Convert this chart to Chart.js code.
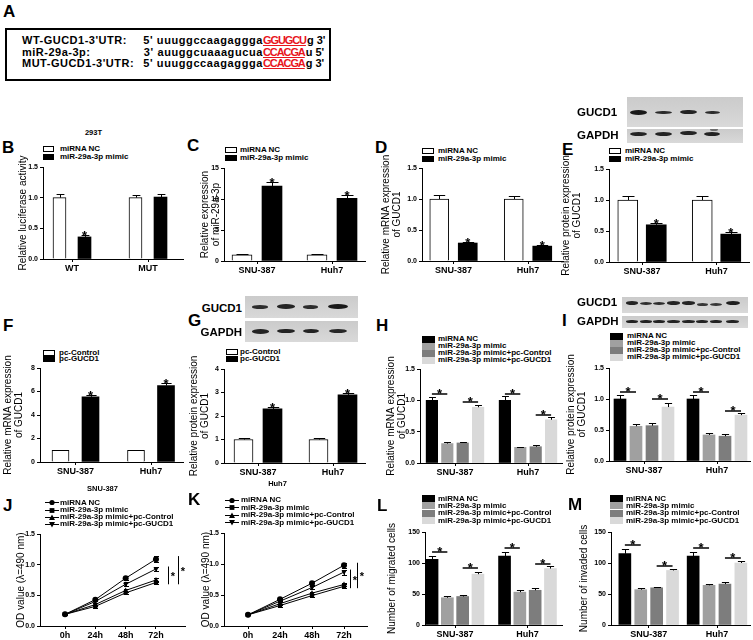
<!DOCTYPE html>
<html>
<head>
<meta charset="utf-8">
<script src="https://cdn.jsdelivr.net/npm/chart.js@4.4.1/dist/chart.umd.min.js"></script>
<style>
  body { margin: 0; background: #fff; }
  #fig { position: relative; width: 753px; height: 640px; overflow: hidden; background: #fff;
         font-family: "Liberation Sans", Arial, sans-serif; color: #000; }
  svg { display: block; }
</style>
</head>
<body>
<div id="fig"></div>
<script>
// ---------------- data ----------------
const cellLines = ["SNU-387", "Huh7"];
const reporters = ["WT", "MUT"];
const timePoints = ["0h", "24h", "48h", "72h"];
const names2 = ["miRNA NC", "miR-29a-3p mimic"];
const pcNames = ["pc-Control", "pc-GUCD1"];
const names4 = ["miRNA NC", "miR-29a-3p mimic", "miR-29a-3p mimic+pc-Control", "miR-29a-3p mimic+pc-GUCD1"];

const seqRows = [
  ["WT-GUCD1-3'UTR:", "5' uuuggccaagaggga", "GGUGCU", "g 3'"],
  ["miR-29a-3p:", "3' auuggcuaaagucua", "CCACGA", "u 5'"],
  ["MUT-GUCD1-3'UTR:", "5' uuuggccaagaggga", "CCACGA", "g 3'"]
];

const ratioTicks = [0, 0.5, 1.0, 1.5];
const ratioTickLabels = ["0.0", "0.5", "1.0", "1.5"];
const mirTicks = [0, 5, 10, 15];
const mirTickLabels = ["0", "5", "10", "15"];
const fTicks = [0, 2, 4, 6, 8];
const fTickLabels = ["0", "2", "4", "6", "8"];
const gTicks = [0, 1, 2, 3, 4];
const gTickLabels = ["0", "1", "2", "3", "4"];
const cellTicks = [0, 50, 100, 150];
const cellTickLabels = ["0", "50", "100", "150"];

// B luciferase (293T)
const lucNC = [1.00, 1.00], lucNCErr = [0.06, 0.05];
const lucMimic = [0.36, 1.01], lucMimicErr = [0.03, 0.05];
const lucStars = [true, false];
// C miR-29a-3p expression
const mirNC = [1.0, 1.0], mirNCErr = [0.05, 0.05];
const mirMimic = [12.1, 10.1], mirMimicErr = [0.6, 0.5];
// D GUCD1 mRNA
const mrnaNC = [1.00, 1.00], mrnaNCErr = [0.06, 0.05];
const mrnaMimic = [0.29, 0.24], mrnaMimicErr = [0.02, 0.02];
// E GUCD1 protein
const protNC = [1.00, 1.00], protNCErr = [0.07, 0.07];
const protMimic = [0.60, 0.45], protMimicErr = [0.03, 0.03];
// F pc-GUCD1 mRNA
const fCtrl = [1.0, 1.0], fCtrlErr = [0.04, 0.04];
const fGucd = [5.55, 6.5], fGucdErr = [0.15, 0.2];
// G pc-GUCD1 protein
const gCtrl = [1.0, 1.0], gCtrlErr = [0.06, 0.05];
const gGucd = [2.3, 2.9], gGucdErr = [0.1, 0.1];
const twoStars = [true, true];
// H rescue mRNA
const hNC = [1.00, 1.00], hNCErr = [0.06, 0.07];
const hMimic = [0.31, 0.25], hMimicErr = [0.02, 0.01];
const hCtrl = [0.32, 0.26], hCtrlErr = [0.02, 0.02];
const hGucd = [0.89, 0.69], hGucdErr = [0.04, 0.05];
const hSig = [[1.10, 0.97], [1.10, 0.77]];
// I rescue protein
const iNC = [1.00, 1.00], iNCErr = [0.06, 0.07];
const iMimic = [0.56, 0.42], iMimicErr = [0.04, 0.03];
const iCtrl = [0.57, 0.40], iCtrlErr = [0.04, 0.03];
const iGucd = [0.87, 0.74], iGucdErr = [0.06, 0.04];
const iSig = [[1.11, 1.00], [1.11, 0.81]];
// J CCK-8 SNU-387
const jNC = [0.19, 0.43, 0.78, 1.09], jNCErr = [0.01, 0.02, 0.03, 0.05];
const jMimic = [0.19, 0.32, 0.54, 0.71], jMimicErr = [0.01, 0.02, 0.02, 0.03];
const jCtrl = [0.19, 0.35, 0.58, 0.75], jCtrlErr = [0.01, 0.02, 0.03, 0.03];
const jGucd = [0.19, 0.40, 0.68, 0.93], jGucdErr = [0.01, 0.02, 0.03, 0.04];
// K CCK-8 Huh7
const kNC = [0.18, 0.43, 0.69, 0.98], kNCErr = [0.01, 0.02, 0.03, 0.04];
const kMimic = [0.18, 0.33, 0.49, 0.64], kMimicErr = [0.01, 0.02, 0.02, 0.03];
const kCtrl = [0.18, 0.36, 0.53, 0.67], kCtrlErr = [0.01, 0.02, 0.02, 0.03];
const kGucd = [0.18, 0.40, 0.62, 0.87], kGucdErr = [0.01, 0.02, 0.03, 0.04];
// L migration
const lNC = [106, 111], lNCErr = [6, 6];
const lMimic = [44, 53], lMimicErr = [3, 3];
const lCtrl = [46, 56], lCtrlErr = [3, 3];
const lGucd = [82, 91], lGucdErr = [3, 4];
const lSig = [[118, 92], [124, 98]];
// M invasion
const mNC = [115, 111], mNCErr = [8, 6];
const mMimic = [57, 64], mMimicErr = [2, 2];
const mCtrl = [60, 66], mCtrlErr = [2, 3];
const mGucd = [88, 100], mGucdErr = [3, 4];
const mSig = [[129, 95], [124, 108]];

// ---------------- styles ----------------
const WHITE = "#ffffff", BLACK = "#000000", GRAY1 = "#a0a0a0", GRAY2 = "#7d7d7d", LIGHT = "#d9d9d9";
const colors2 = [WHITE, BLACK];
const colors4 = [BLACK, GRAY1, GRAY2, LIGHT];
const FONT = "'Liberation Sans', Arial, sans-serif";
const LEG = 8;
Chart.defaults.font.family = FONT;
Chart.defaults.color = "#000";

const fig = document.getElementById("fig");

function addDiv(styles, text) {
  const d = document.createElement("div");
  d.style.position = "absolute";
  Object.assign(d.style, styles);
  if (text !== undefined) d.textContent = text;
  fig.appendChild(d);
  return d;
}

// yc = vertical centre of capitals
function addText(text, x, yc, size, weight, align) {
  const s = { top: (yc - size / 2) + "px", fontSize: size + "px", lineHeight: size + "px",
              fontWeight: weight || "bold", whiteSpace: "nowrap" };
  if (align === "center") { s.left = (x - 150) + "px"; s.width = "300px"; s.textAlign = "center"; }
  else if (align === "right") { s.left = (x - 300) + "px"; s.width = "300px"; s.textAlign = "right"; }
  else s.left = x + "px";
  return addDiv(s, text);
}

function boxLegend(x, textX, rows, labels, cols, w, h) {
  rows.forEach((yc, i) => {
    addDiv({ left: x + "px", top: (yc - h / 2) + "px", width: w + "px", height: h + "px",
             background: cols[i], boxSizing: "border-box",
             border: cols[i] === WHITE ? "1px solid #000" : "none" });
    addText(labels[i], textX, yc, LEG, "bold");
  });
}

const markerSvg = [
  '<circle cx="7" cy="3.5" r="2.6" fill="#000"/>',
  '<rect x="4.6" y="1.1" width="4.8" height="4.8" fill="#000"/>',
  '<polygon points="7,0.6 10,6 4,6" fill="#000"/>',
  '<polygon points="7,6.4 10,1 4,1" fill="#000"/>'
];
function lineLegend(x, textX, rows, labels) {
  rows.forEach((yc, i) => {
    const s = addDiv({ left: x + "px", top: (yc - 3.5) + "px", width: "14px", height: "7px", lineHeight: "0" });
    s.innerHTML = '<svg width="14" height="7"><line x1="0" y1="3.5" x2="14" y2="3.5" stroke="#000" stroke-width="1"/>' +
                  markerSvg[i] + "</svg>";
    addText(labels[i], textX, yc, LEG, "bold");
  });
}

function blot(x, y, w, h, bands) {
  const box = addDiv({ left: x + "px", top: y + "px", width: w + "px", height: h + "px",
                       background: "linear-gradient(#cbcbcb, #d9d9d9)", overflow: "hidden" });
  bands.forEach(([cx, cy, bw, bh, a]) => {
    const b = document.createElement("div");
    Object.assign(b.style, { position: "absolute", left: (cx - bw / 2 - x) + "px", top: (cy - bh / 2 - y) + "px",
      width: bw + "px", height: bh + "px", borderRadius: "50%", background: "rgba(15,15,15," + a + ")",
      filter: "blur(0.7px)" });
    box.appendChild(b);
  });
}

function addCanvas(left, top, w, h) {
  const c = document.createElement("canvas");
  c.width = Math.round(w); c.height = Math.round(h);
  Object.assign(c.style, { position: "absolute", left: left + "px", top: top + "px" });
  fig.appendChild(c);
  return c;
}

function yAxisOpts(ticks, labels, title, width, titlePad, lh) {
  return {
    type: "linear", min: ticks[0], max: ticks[ticks.length - 1],
    afterFit: s => { s.width = width; },
    afterBuildTicks: s => { s.ticks = ticks.map(v => ({ value: v })); },
    ticks: { callback: (v, i) => labels[i], font: { size: 7, weight: "bold" }, padding: 2, color: "#000" },
    grid: { drawOnChartArea: false, tickLength: 3, color: "#000", lineWidth: 1 },
    border: { color: "#000", width: 1 },
    title: { display: true, text: title, color: "#000", font: { size: 10, lineHeight: lh / 10 },
             padding: { top: titlePad, bottom: 0 } }
  };
}

function xAxisOpts(min, max, labels, height) {
  return {
    type: "linear", min: min, max: max, offset: false,
    afterFit: s => { s.height = height; },
    afterBuildTicks: s => { s.ticks = labels.map((_, i) => ({ value: i })); },
    ticks: { callback: (v, i) => labels[i], font: { size: 9, weight: "bold" }, padding: 1,
             maxRotation: 0, autoSkip: false, color: "#000" },
    grid: { drawOnChartArea: false, tickLength: 3, color: "#000", offset: false },
    border: { color: "#000", width: 1 }
  };
}

function makeBarMarks(levels) {
  return {
    id: "barMarks",
    afterDatasetsDraw(chart) {
      const ctx = chart.ctx, y = chart.scales.y;
      ctx.save();
      ctx.strokeStyle = "#000"; ctx.fillStyle = "#000"; ctx.lineWidth = 1;
      ctx.font = "bold 13px " + FONT;
      ctx.textAlign = "center"; ctx.textBaseline = "alphabetic";
      chart.data.datasets.forEach((ds, di) => {
        chart.getDatasetMeta(di).data.forEach((bar, i) => {
          const v = ds.data[i].y, e = ds.errs[i];
          const x = Math.round(bar.x) + 0.5;
          const y0 = y.getPixelForValue(v), y1 = Math.round(y.getPixelForValue(v + e)) + 0.5;
          const cap = Math.max(2, bar.width * 0.3);
          ctx.beginPath();
          ctx.moveTo(x, y0); ctx.lineTo(x, y1);
          ctx.moveTo(x - cap, y1); ctx.lineTo(x + cap, y1);
          ctx.stroke();
          if (ds.stars && ds.stars[i]) ctx.fillText("*", bar.x, y1 + 4.5);
        });
      });
      if (levels) {
        ctx.lineWidth = 1.5;
        levels.forEach((pair, g) => {
          pair.forEach((lv, p) => {
            const a = chart.getDatasetMeta(p * 2).data[g], b = chart.getDatasetMeta(p * 2 + 1).data[g];
            const yy = Math.round(y.getPixelForValue(lv));
            ctx.beginPath(); ctx.moveTo(a.x, yy); ctx.lineTo(b.x, yy); ctx.stroke();
            ctx.fillText("*", (a.x + b.x) / 2, yy + 4);
          });
        });
      }
      ctx.restore();
    }
  };
}

// canvas geometry shared by all panels: room above and below for the long y titles
const PAD_T = 40, PAD_B = 16, PAD_X = 12, PAD_R = 4, TITLE_LH = 11.5;

function chartFrame(g) {
  const left = Math.round(g.titleX - TITLE_LH / 2 - 2);
  const padL = g.L - left;
  const top = g.top - PAD_T;
  const cv = addCanvas(left, top, g.R - left + PAD_R, g.bottom - top + PAD_B + PAD_X);
  return { cv, padL };
}

const baseOptions = () => ({
  responsive: false, animation: false, devicePixelRatio: 1,
  layout: { padding: { left: 0, right: PAD_R, top: PAD_T, bottom: PAD_X } },
  plugins: { legend: { display: false }, tooltip: { enabled: false } }
});

function barPanel(p) {
  const g = p.geo;
  const { cv, padL } = chartFrame(g);
  const n = p.series.length;
  const datasets = p.series.map((s, d) => ({
    data: s.v.map((v, k) => ({ x: k + (d - (n - 1) / 2) * g.step / g.u, y: v })),
    errs: s.e, stars: s.stars,
    backgroundColor: s.c, borderColor: "#000", borderWidth: s.c === WHITE ? 1 : 0,
    barThickness: g.barW, grouped: false
  }));
  const options = baseOptions();
  options.scales = {
    x: xAxisOpts(-(g.c0 - g.L) / g.u, (g.R - g.c0) / g.u, p.cats, PAD_B),
    y: yAxisOpts(p.yTicks, p.yLabels, p.title, padL, 2, TITLE_LH)
  };
  new Chart(cv.getContext("2d"), { type: "bar", data: { datasets }, options, plugins: [makeBarMarks(p.levels)] });
}

function makeLineMarks(brackets) {
  return {
    id: "lineMarks",
    beforeDatasetsDraw(chart) {
      const ctx = chart.ctx, y = chart.scales.y;
      ctx.save(); ctx.strokeStyle = "#000"; ctx.lineWidth = 1;
      chart.data.datasets.forEach((ds, di) => {
        chart.getDatasetMeta(di).data.forEach((pt, i) => {
          const v = ds.data[i].y, e = ds.errs[i];
          const x = Math.round(pt.x) + 0.5;
          const ya = Math.round(y.getPixelForValue(v + e)) + 0.5, yb = Math.round(y.getPixelForValue(v - e)) + 0.5;
          ctx.beginPath();
          ctx.moveTo(x, ya); ctx.lineTo(x, yb);
          ctx.moveTo(x - 2.5, ya); ctx.lineTo(x + 2.5, ya);
          ctx.moveTo(x - 2.5, yb); ctx.lineTo(x + 2.5, yb);
          ctx.stroke();
        });
      });
      ctx.restore();
    },
    afterDatasetsDraw(chart) {
      const ctx = chart.ctx, y = chart.scales.y;
      ctx.save(); ctx.strokeStyle = "#000"; ctx.fillStyle = "#000"; ctx.lineWidth = 1;
      ctx.font = "bold 11px " + FONT; ctx.textAlign = "center"; ctx.textBaseline = "alphabetic";
      brackets.forEach(b => {
        const hiDs = chart.data.datasets[b.hi], loDs = chart.data.datasets[b.lo];
        const last = hiDs.data.length - 1;
        const x = Math.round(chart.getDatasetMeta(b.hi).data[last].x + b.dx) + 0.5;
        const ya = y.getPixelForValue(hiDs.data[last].y + hiDs.errs[last]);
        const yb = y.getPixelForValue(loDs.data[last].y - loDs.errs[last]);
        ctx.beginPath(); ctx.moveTo(x, ya); ctx.lineTo(x, yb); ctx.stroke();
        ctx.fillText("*", x + 4.5, (ya + yb) / 2 + 5);
      });
      ctx.restore();
    }
  };
}

const pointStyles = ["circle", "rect", "triangle", "triangle"];
const pointRot = [0, 0, 0, 180];

function linePanel(p) {
  const g = p.geo;
  const { cv, padL } = chartFrame(g);
  const datasets = p.series.map((s, d) => ({
    data: s.v.map((v, k) => ({ x: k, y: v })), errs: s.e,
    borderColor: "#000", borderWidth: 1, tension: 0,
    pointStyle: pointStyles[d], pointRotation: pointRot[d], pointRadius: 3,
    pointBackgroundColor: "#000", pointBorderColor: "#000", pointBorderWidth: 0
  }));
  const options = baseOptions();
  options.scales = {
    x: xAxisOpts(-(g.x0 - g.L) / g.u, (g.R - g.x0) / g.u, p.cats, PAD_B),
    y: yAxisOpts(p.yTicks, p.yLabels, p.title, padL, 2, TITLE_LH)
  };
  new Chart(cv.getContext("2d"), { type: "line", data: { datasets }, options, plugins: [makeLineMarks(p.brackets)] });
}

// ---------------- panel A ----------------
addText("A", 3, 11, 17, "bold");
addDiv({ left: "5px", top: "28px", width: "326px", height: "53px", border: "2px solid #000", boxSizing: "border-box" });
const seqY = [40, 52, 63];
seqRows.forEach((r, i) => {
  addText(r[0], 22, seqY[i], 11, "bold").style.letterSpacing = "0.5px";
  addText(r[1], 263, seqY[i], 11, "bold", "right").style.letterSpacing = "0.6px";
  const d = addText("", 263, seqY[i], 11, "bold");
  const red = document.createElement("span");
  red.textContent = r[2];
  Object.assign(red.style, { color: "#e8141c", textDecoration: "underline", letterSpacing: "-1.1px" });
  d.appendChild(red);
  const tail = document.createElement("span");
  tail.textContent = r[3];
  tail.style.marginLeft = "1px";
  d.appendChild(tail);
});

// ---------------- row 1 ----------------
addText("B", 2, 147.5, 17); addText("C", 187, 145, 17); addText("D", 375, 147.5, 17); addText("E", 562, 149, 17);
addText("293T", 93.5, 133, 7.5, "bold", "center");
boxLegend(43, 60, [149, 156.5], names2, colors2, 11, 6);
boxLegend(225, 240, [150, 158], names2, colors2, 12, 6);
boxLegend(422, 438, [151, 159], names2, colors2, 12, 6);
boxLegend(609, 625, [151, 159], names2, colors2, 12, 6);

barPanel({ geo: { L: 43, R: 183, top: 167, bottom: 259, c0: 72, u: 76, step: 25, barW: 13, titleX: 23 },
  cats: reporters, yTicks: ratioTicks, yLabels: ratioTickLabels, title: "Relative luciferase activity",
  series: [{ v: lucNC, e: lucNCErr, c: WHITE }, { v: lucMimic, e: lucMimicErr, c: BLACK, stars: lucStars }] });
barPanel({ geo: { L: 224, R: 365, top: 168, bottom: 261, c0: 257, u: 75, step: 30, barW: 20, titleX: 205 },
  cats: cellLines, yTicks: mirTicks, yLabels: mirTickLabels, title: ["Relative expression", "of miR-29a-3p"],
  series: [{ v: mirNC, e: mirNCErr, c: WHITE }, { v: mirMimic, e: mirMimicErr, c: BLACK, stars: twoStars }] });
barPanel({ geo: { L: 422, R: 563, top: 168, bottom: 261, c0: 453.5, u: 74.5, step: 28.5, barW: 19, titleX: 386 },
  cats: cellLines, yTicks: ratioTicks, yLabels: ratioTickLabels, title: ["Relative mRNA expression", "of GUCD1"],
  series: [{ v: mrnaNC, e: mrnaNCErr, c: WHITE }, { v: mrnaMimic, e: mrnaMimicErr, c: BLACK, stars: twoStars }] });
barPanel({ geo: { L: 609, R: 749, top: 169, bottom: 262, c0: 642, u: 74.5, step: 28.5, barW: 20, titleX: 566 },
  cats: cellLines, yTicks: ratioTicks, yLabels: ratioTickLabels, title: ["Relative protein expression", "of GUCD1"],
  series: [{ v: protNC, e: protNCErr, c: WHITE }, { v: protMimic, e: protMimicErr, c: BLACK, stars: twoStars }] });

addText("GUCD1", 577, 113, 11.5, "bold");
addText("GAPDH", 577, 136, 11.5, "bold");
blot(627, 97, 116, 30, [[638.5, 112, 17, 5, 0.95], [663.5, 112.5, 17, 3.5, 0.85], [688.5, 112, 17, 4.5, 0.9], [712, 112.5, 15, 3.5, 0.85]]);
blot(627, 129, 116, 14, [[638.5, 133.5, 17, 4, 0.9], [663.5, 133.5, 17, 4, 0.9], [688.5, 133, 17, 4.5, 0.9], [712, 133.5, 16, 4, 0.9], [714, 129.5, 8, 3, 0.5]]);

// ---------------- row 2 ----------------
addText("F", 3, 325.5, 17); addText("G", 188, 320, 17); addText("H", 376, 325, 17); addText("I", 562, 320, 17);
boxLegend(43, 59, [352.5, 359], pcNames, colors2, 12, 6);
boxLegend(226, 240, [352, 359], pcNames, colors2, 12, 6);
boxLegend(422, 438, [339, 346, 353, 360], names4, colors4, 13, 7);
boxLegend(610, 627, [336, 343, 350, 357], names4, colors4, 13, 7);

barPanel({ geo: { L: 40, R: 183, top: 368, bottom: 462, c0: 75.5, u: 75.5, step: 30, barW: 17, titleX: 8 },
  cats: cellLines, yTicks: fTicks, yLabels: fTickLabels, title: ["Relative mRNA expression", "of GUCD1"],
  series: [{ v: fCtrl, e: fCtrlErr, c: WHITE }, { v: fGucd, e: fGucdErr, c: BLACK, stars: twoStars }] });
barPanel({ geo: { L: 224, R: 365, top: 369, bottom: 463, c0: 258, u: 75, step: 29, barW: 19, titleX: 194 },
  cats: cellLines, yTicks: gTicks, yLabels: gTickLabels, title: ["Relative protein expression", "of GUCD1"],
  series: [{ v: gCtrl, e: gCtrlErr, c: WHITE }, { v: gGucd, e: gGucdErr, c: BLACK, stars: twoStars }] });
barPanel({ geo: { L: 420, R: 562, top: 369, bottom: 463, c0: 455, u: 73, step: 15.4, barW: 11.5, titleX: 391 },
  cats: cellLines, yTicks: ratioTicks, yLabels: ratioTickLabels, title: ["Relative mRNA expression", "of GUCD1"],
  levels: hSig,
  series: [{ v: hNC, e: hNCErr, c: BLACK }, { v: hMimic, e: hMimicErr, c: GRAY1 },
           { v: hCtrl, e: hCtrlErr, c: GRAY2 }, { v: hGucd, e: hGucdErr, c: LIGHT }] });
barPanel({ geo: { L: 609, R: 750, top: 368, bottom: 461, c0: 644, u: 73, step: 16, barW: 12, titleX: 571 },
  cats: cellLines, yTicks: ratioTicks, yLabels: ratioTickLabels, title: ["Relative protein expression", "of GUCD1"],
  levels: iSig,
  series: [{ v: iNC, e: iNCErr, c: BLACK }, { v: iMimic, e: iMimicErr, c: GRAY1 },
           { v: iCtrl, e: iCtrlErr, c: GRAY2 }, { v: iGucd, e: iGucdErr, c: LIGHT }] });

addText("GUCD1", 242, 309, 11.5, "bold", "right");
addText("GAPDH", 242, 333, 11.5, "bold", "right");
blot(245, 296, 113, 22, [[260, 307, 16, 3.5, 0.85], [286, 306.5, 18, 4.5, 0.9], [310.5, 307, 15, 3.5, 0.85], [338, 306, 20, 5, 0.95]]);
blot(245, 321, 113, 21, [[260, 331.5, 17, 4.5, 0.9], [286, 331, 18, 4.5, 0.9], [310.5, 330.5, 16, 4, 0.9], [338, 331, 18, 4, 0.88]]);
addText("GUCD1", 577, 303, 11.5, "bold");
addText("GAPDH", 577, 322, 11.5, "bold");
blot(622, 297, 126, 16, [[631.5, 303, 12, 3.5, 0.9], [646, 303.5, 12, 3, 0.85], [659, 303.5, 12, 3, 0.85], [673.5, 303, 13, 3.5, 0.9],
                        [688.5, 303, 13, 3.5, 0.9], [702, 304, 11, 3, 0.8], [716, 304, 12, 3, 0.8], [732.5, 303, 14, 4, 0.92]]);
blot(622, 316, 126, 12, [[631.5, 321.5, 12, 3.5, 0.9], [646, 321.5, 12, 3.5, 0.9], [659, 321.5, 12, 3.5, 0.9], [673.5, 321.5, 13, 3.5, 0.9],
                        [688.5, 321.5, 13, 3.5, 0.9], [702, 321.5, 12, 3.5, 0.9], [716, 321.5, 12, 3.5, 0.9], [732.5, 321.5, 13, 3.5, 0.9]]);

// ---------------- row 3 ----------------
addText("J", 3, 505, 17); addText("K", 188, 499.5, 17); addText("L", 377, 505, 17); addText("M", 568, 504, 17);
addText("SNU-387", 102.5, 489, 7.5, "bold", "center");
addText("Huh7", 277.5, 484, 7.5, "bold", "center");
lineLegend(45, 60, [502.5, 510, 517, 524], names4);
lineLegend(225, 241, [500, 507.5, 515, 522.5], names4);
boxLegend(422, 438, [498.5, 505.7, 513, 520.5], names4, colors4, 13, 7);
boxLegend(610, 626, [498.5, 505.7, 513, 520.5], names4, colors4, 13, 7);

linePanel({ geo: { L: 40, R: 185, top: 534, bottom: 626, x0: 65, u: 30.33, titleX: 21 },
  cats: timePoints, yTicks: ratioTicks, yLabels: ratioTickLabels, title: "OD value (\u03bb=490 nm)",
  series: [{ v: jNC, e: jNCErr }, { v: jMimic, e: jMimicErr }, { v: jCtrl, e: jCtrlErr }, { v: jGucd, e: jGucdErr }],
  brackets: [{ hi: 3, lo: 1, dx: 12 }, { hi: 0, lo: 1, dx: 22 }] });
linePanel({ geo: { L: 224, R: 367, top: 533, bottom: 626, x0: 248, u: 32, titleX: 206 },
  cats: timePoints, yTicks: ratioTicks, yLabels: ratioTickLabels, title: "OD value (\u03bb=490 nm)",
  series: [{ v: kNC, e: kNCErr }, { v: kMimic, e: kMimicErr }, { v: kCtrl, e: kCtrlErr }, { v: kGucd, e: kGucdErr }],
  brackets: [{ hi: 3, lo: 1, dx: 6 }, { hi: 0, lo: 1, dx: 13 }] });

barPanel({ geo: { L: 425, R: 562, top: 532, bottom: 625, c0: 455, u: 72.5, step: 15.3, barW: 12, titleX: 392 },
  cats: cellLines, yTicks: cellTicks, yLabels: cellTickLabels, title: "Number of migrated cells",
  levels: lSig,
  series: [{ v: lNC, e: lNCErr, c: BLACK }, { v: lMimic, e: lMimicErr, c: GRAY1 },
           { v: lCtrl, e: lCtrlErr, c: GRAY2 }, { v: lGucd, e: lGucdErr, c: LIGHT }] });
barPanel({ geo: { L: 611, R: 750, top: 532, bottom: 625, c0: 648.7, u: 68.3, step: 15.9, barW: 12, titleX: 584 },
  cats: cellLines, yTicks: cellTicks, yLabels: cellTickLabels, title: "Number of invaded cells",
  levels: mSig,
  series: [{ v: mNC, e: mNCErr, c: BLACK }, { v: mMimic, e: mMimicErr, c: GRAY1 },
           { v: mCtrl, e: mCtrlErr, c: GRAY2 }, { v: mGucd, e: mGucdErr, c: LIGHT }] });
</script>
</body>
</html>
